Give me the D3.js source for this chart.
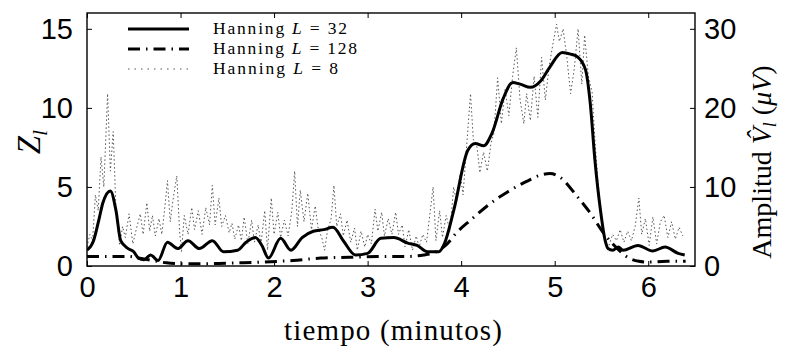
<!DOCTYPE html>
<html><head><meta charset="utf-8">
<script src="https://cdn.jsdelivr.net/npm/d3@7"></script>
<style>body{margin:0;background:#fff}</style>
</head><body><svg id="c" width="786" height="347"></svg>
<script>
// ---- data ----
const xTicks = [0,1,2,3,4,5,6];
const yLeftTicks = [0,5,10,15];
const yRightTicks = [0,10,20,30];
const legendLabels = ["32","128","8"];

const tL32 = [0.00,0.07,0.13,0.17,0.25,0.31,0.36,0.44,0.50,0.55,0.61,0.68,0.76,0.86,0.97,1.08,1.20,1.34,1.46,1.61,1.70,1.80,1.87,1.94,2.07,2.18,2.30,2.42,2.53,2.63,2.74,2.87,3.00,3.14,3.28,3.43,3.53,3.64,3.76,3.82,3.92,4.07,4.15,4.24,4.33,4.45,4.55,4.63,4.74,4.85,4.95,5.08,5.17,5.25,5.33,5.38,5.43,5.49,5.54,5.57,5.62,5.68,5.73,5.89,6.05,6.18,6.32,6.39];
const zL32 = [1.0,1.6,3.0,4.0,4.75,3.5,1.6,1.1,0.9,0.5,0.4,0.7,0.35,1.5,1.1,1.6,1.1,1.6,0.9,1.0,1.5,1.8,1.3,0.5,1.75,1.0,1.8,2.2,2.3,2.45,1.6,0.7,0.8,1.75,1.8,1.45,1.3,0.9,0.9,1.4,3.5,7.3,7.75,7.6,8.4,10.6,11.6,11.5,11.3,11.7,12.6,13.5,13.4,13.2,12.4,10.3,6.7,3.5,1.6,1.1,1.0,1.2,1.0,1.3,0.95,1.2,0.8,0.7];

const tL128 = [0,0.3,0.45,0.55,0.7,0.85,1.0,1.3,1.6,1.9,2.2,2.5,2.8,3.1,3.4,3.6,3.75,3.85,3.95,4.1,4.3,4.5,4.7,4.85,4.95,5.06,5.24,5.38,5.52,5.67,5.78,5.9,6.0,6.2,6.4];
const zL128 = [0.6,0.6,0.6,0.5,0.35,0.2,0.15,0.15,0.2,0.25,0.35,0.5,0.55,0.6,0.6,0.7,0.95,1.4,2.1,2.9,3.9,4.7,5.35,5.75,5.85,5.6,4.4,3.35,2.1,1.1,0.55,0.3,0.25,0.3,0.3];

const tL8 = [0.00,0.03,0.06,0.09,0.12,0.15,0.18,0.22,0.25,0.28,0.31,0.35,0.38,0.41,0.45,0.49,0.53,0.57,0.60,0.64,0.67,0.70,0.73,0.77,0.80,0.83,0.86,0.89,0.92,0.96,0.99,1.01,1.04,1.08,1.12,1.15,1.19,1.23,1.27,1.31,1.34,1.37,1.41,1.44,1.48,1.52,1.55,1.58,1.62,1.65,1.68,1.72,1.76,1.79,1.83,1.86,1.90,1.93,1.97,2.00,2.04,2.07,2.11,2.15,2.19,2.22,2.25,2.28,2.32,2.36,2.40,2.44,2.47,2.51,2.54,2.57,2.61,2.64,2.67,2.71,2.74,2.78,2.82,2.86,2.89,2.93,2.97,3.00,3.04,3.08,3.11,3.15,3.18,3.22,3.26,3.30,3.33,3.37,3.40,3.44,3.48,3.52,3.55,3.59,3.63,3.67,3.70,3.73,3.77,3.80,3.84,3.88,3.92,3.95,3.99,4.02,4.06,4.10,4.13,4.17,4.20,4.24,4.28,4.32,4.35,4.39,4.43,4.47,4.51,4.55,4.59,4.63,4.67,4.70,4.74,4.78,4.82,4.86,4.90,4.94,4.98,5.02,5.05,5.09,5.13,5.17,5.21,5.25,5.29,5.32,5.36,5.40,5.43,5.46,5.50,5.54,5.58,5.62,5.66,5.70,5.74,5.78,5.82,5.86,5.90,5.93,5.97,6.01,6.05,6.09,6.13,6.17,6.21,6.25,6.29,6.33,6.37];
const zL8 = [1.2,2.0,1.6,4.5,3.5,6.9,5.0,10.9,6.0,8.5,3.5,1.3,2.5,1.8,3.3,1.4,2.4,3.3,2.0,4.0,2.2,3.2,1.9,3.0,2.0,3.6,5.4,2.8,4.2,5.7,2.2,0.9,3.2,2.0,3.7,2.3,3.5,2.0,3.7,2.6,5.1,2.6,4.3,2.5,3.2,2.1,2.7,1.7,2.6,1.6,3.1,1.4,2.9,1.5,2.6,1.4,3.5,1.0,4.3,2.0,3.4,1.8,2.9,1.9,3.5,6.0,2.5,4.8,2.8,4.6,2.3,3.8,2.4,1.8,1.0,2.2,3.0,5.1,2.5,3.3,1.9,2.9,1.5,2.4,1.0,2.2,1.2,2.0,1.4,3.6,2.2,3.4,1.9,3.0,2.0,3.4,2.0,2.6,1.2,2.3,1.0,1.9,1.2,2.0,1.5,3.5,5.0,1.6,3.5,1.8,3.2,2.2,5.0,4.0,5.85,4.5,7.7,10.9,8.0,7.5,5.9,7.2,6.0,7.8,8.4,11.9,9.0,11.2,9.5,12.0,13.8,10.5,9.0,10.9,9.2,12.0,9.4,13.2,10.5,12.6,14.0,15.3,14.2,15.0,13.2,10.9,12.5,15.0,11.5,14.6,12.0,11.0,8.0,5.5,3.0,1.5,1.3,2.0,1.6,2.3,1.5,2.2,1.6,2.5,4.3,2.0,3.0,1.3,3.1,1.4,2.8,3.2,1.8,2.8,1.7,2.45,1.9];

// ---- layout ----
const svg = d3.select("#c");
const L = 87, R = 695, T = 13, B = 266;
const x = d3.scaleLinear().domain([0,6.5]).range([L,R]);
const y = d3.scaleLinear().domain([0,16]).range([B,T]);
const y2 = d3.scaleLinear().domain([0,32]).range([B,T]);

svg.append("clipPath").attr("id","pc").append("rect")
  .attr("x",L).attr("y",T).attr("width",R-L).attr("height",B-T);

const plot = svg.append("g").attr("clip-path","url(#pc)");
const zip = (a,b)=>a.map((v,i)=>[v,b[i]]);
const mk = c => d3.line().x(d=>x(d[0])).y(d=>y(d[1])).curve(c);

plot.append("path").datum(zip(tL8,zL8))
  .attr("d", mk(d3.curveLinear)).attr("fill","none")
  .attr("stroke","#555").attr("stroke-width",1).attr("stroke-dasharray","1.5,2.5");
plot.append("path").datum(zip(tL128,zL128))
  .attr("d", mk(d3.curveMonotoneX)).attr("fill","none")
  .attr("stroke","#000").attr("stroke-width",3).attr("stroke-dasharray","12,6,1.5,6");
plot.append("path").datum(zip(tL32,zL32))
  .attr("d", mk(d3.curveMonotoneX)).attr("fill","none")
  .attr("stroke","#000").attr("stroke-width",3);

// frame
svg.append("rect").attr("x",L).attr("y",T).attr("width",R-L).attr("height",B-T)
  .attr("fill","none").attr("stroke","#000").attr("stroke-width",1.4);

const tickFont = "'Liberation Sans', Arial, sans-serif";
const ax = d3.axisBottom(x).tickValues(xTicks).tickSizeInner(-5).tickSizeOuter(0).tickPadding(10).tickFormat(d3.format("d"));
const gx = svg.append("g").attr("transform",`translate(0,${B})`).call(ax);
const axT = d3.axisTop(x).tickValues(xTicks).tickSizeInner(-5).tickSizeOuter(0).tickFormat("");
const gxt = svg.append("g").attr("transform",`translate(0,${T})`).call(axT);
const ayl = d3.axisLeft(y).tickValues(yLeftTicks).tickSizeInner(-5).tickSizeOuter(0).tickPadding(14);
const gy = svg.append("g").attr("transform",`translate(${L},0)`).call(ayl);
const ayr = d3.axisRight(y2).tickValues(yRightTicks).tickSizeInner(-5).tickSizeOuter(0).tickPadding(9);
const gy2 = svg.append("g").attr("transform",`translate(${R},0)`).call(ayr);
[gx,gxt,gy,gy2].forEach(g=>{
  g.select(".domain").remove();
  g.selectAll("line").attr("stroke","#000").attr("stroke-width",1);
  g.selectAll("text").attr("font-family",tickFont).attr("font-size",29).attr("fill","#000");
});
gx.selectAll("text").attr("dy","0.72em");

// axis titles
svg.append("text").attr("x",393).attr("y",340).attr("text-anchor","middle")
  .attr("font-family","'Liberation Serif', serif").attr("font-size",29)
  .attr("textLength",218).attr("lengthAdjust","spacing").text("tiempo (minutos)");

const zl = svg.append("text").attr("transform","translate(40,142) rotate(-90)")
  .attr("text-anchor","middle").attr("font-family","'Liberation Serif', serif").attr("font-size",33);
zl.append("tspan").attr("font-style","italic").text("Z");
zl.append("tspan").attr("font-style","italic").attr("font-size",22).attr("dy",7).text("l");

const rl = svg.append("text").attr("transform","translate(771,162) rotate(-90)")
  .attr("text-anchor","middle").attr("font-family","'Liberation Serif', serif").attr("font-size",28);
rl.append("tspan").text("Amplitud ");
rl.append("tspan").attr("font-style","italic").text("V\u0302");
rl.append("tspan").attr("font-style","italic").attr("font-size",18).attr("dy",5).text("l");
rl.append("tspan").attr("dy",-5).text(" (");
rl.append("tspan").attr("font-style","italic").text("\u03BCV");
rl.append("tspan").text(")");

// legend
const legStyles = [
  {w:3, dash:null, c:"#000", len:134},
  {w:3, dash:"12,6,1.5,6", c:"#000", len:144},
  {w:1, dash:"1.5,5", c:"#555", len:125}
];
legendLabels.forEach((lab,i)=>{
  const yy = 29 + i*20;
  const s = legStyles[i];
  const ln = svg.append("line").attr("x1",128).attr("x2",189).attr("y1",yy).attr("y2",yy)
    .attr("stroke",s.c).attr("stroke-width",s.w);
  if (s.dash) ln.attr("stroke-dasharray",s.dash);
  const t = svg.append("text").attr("x",213).attr("y",yy+5)
    .attr("font-family","'Liberation Serif', serif").attr("font-size",17.5)
    .attr("textLength",s.len).attr("lengthAdjust","spacing");
  t.append("tspan").text("Hanning ");
  t.append("tspan").attr("font-style","italic").text("L");
  t.append("tspan").text(" = " + lab);
});
</script></body></html>
